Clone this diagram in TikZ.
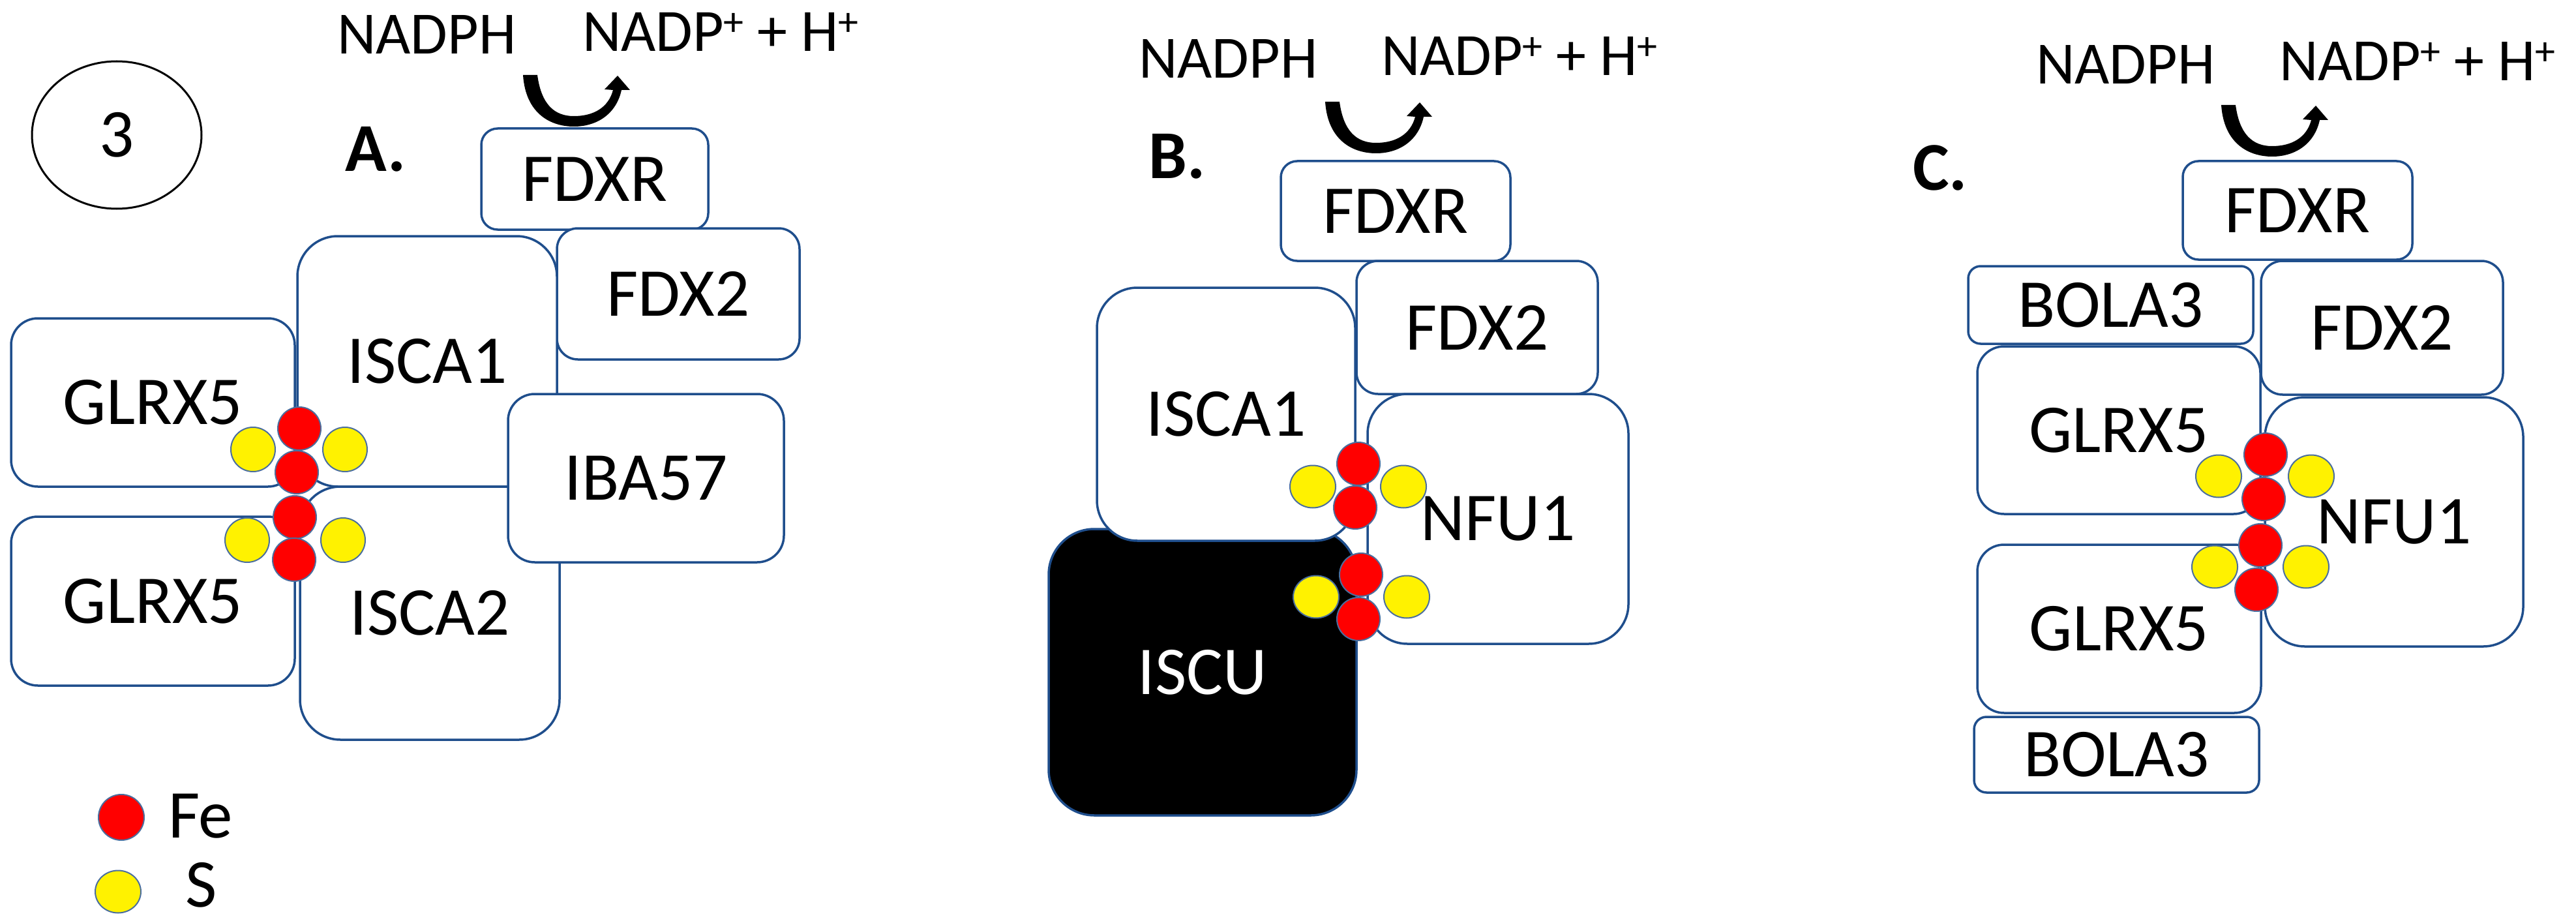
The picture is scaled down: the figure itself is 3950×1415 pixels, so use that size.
\documentclass[tikz,border=0pt]{standalone}
\usepackage{fontspec}
\setmainfont{Carlito}
\usetikzlibrary{shapes.geometric}
\definecolor{boxblue}{HTML}{1F4E8C}
\definecolor{dotline}{HTML}{4A6E9E}
\newcommand\lblfont{\fontsize{105}{126}\selectfont}
\newcommand\nadfont{\fontsize{92}{110}\selectfont}
\newcommand\supplus{\raisebox{24pt}{\fontsize{62}{62}\selectfont +}}
\newcommand\myredox[1]{\begin{scope}[shift={#1}]
\fill[black] (802,115) .. controls (806,175) and (845,194) .. (880,194)
  .. controls (915,194) and (945,175) .. (953,138) -- (966,138) -- (947,116) -- (927,137) -- (940,138)
  .. controls (933,165) and (910,178) .. (880,178)
  .. controls (850,178) and (830,160) .. (824,115) -- cycle;
\end{scope}}
\tikzset{
  pbox/.style={draw=boxblue, line width=3.5pt, fill=white, inner sep=0pt, outer sep=0pt, font=\lblfont, text=black},
  sz/.style n args={3}{minimum width=#1pt, minimum height=#2pt, rounded corners=#3pt},
  featom/.style={circle, draw=dotline, line width=2pt, fill=red, minimum size=66pt, inner sep=0pt},
  satom/.style={circle, draw=dotline, line width=2pt, fill=yellow, minimum size=68pt, inner sep=0pt},
  satomE/.style={ellipse, draw=dotline, line width=2pt, fill=yellow, minimum width=70pt, minimum height=65pt, inner sep=0pt},
  nad/.style={font=\nadfont, inner sep=0pt, anchor=base west},
  plabel/.style={font=\lblfont\bfseries, inner sep=0pt},
}
\begin{document}
\begin{tikzpicture}[x=1pt, y=-1pt]
\useasboundingbox (0,0) rectangle (3950,1415);

% ---------- Panel A ----------
\node[ellipse, draw=black, line width=3pt, minimum width=260pt, minimum height=226pt, inner sep=0pt, font=\lblfont] (num) at (179,207) {3};
\node[nad] (aNADPH) at (517,83) {NADPH};
\node[nad] (aNADP) at (893,79) {NADP\supplus\ + H\supplus};
\myredox{(0,0)}
\node[plabel] (aLab) at (576,229) {A.};
\node[pbox, sz={348}{155}{25}] (aFDXR) at (912,274.5) {FDXR};
\node[pbox, sz={372}{201}{32}] (aFDX2) at (1040,450.5) {FDX2};
\node[pbox, sz={398}{384}{62}] (aISCA1) at (655,554) {ISCA1};
\node[pbox, sz={398}{388}{62}] (aISCA2) at (659,940) {ISCA2};
\node[pbox, sz={435}{258}{41}] (aGLRX5a) at (234.5,617) {GLRX5};
\node[pbox, sz={435}{259}{41}] (aGLRX5b) at (234.5,921.5) {GLRX5};
\node[pbox, sz={423}{258}{41}] (aIBA57) at (990.5,733) {IBA57};
% clusters A
\node[satom] (a1s1) at (388,689) {};
\node[satom] (a1s2) at (529,689) {};
\node[featom] (a1f1) at (459,657) {};
\node[featom] (a1f2) at (455,724) {};
\node[satom] (a2s1) at (379,828) {};
\node[satom] (a2s2) at (526,828) {};
\node[featom] (a2f1) at (452,793) {};
\node[featom] (a2f2) at (451,858) {};
% legend
\node[featom, minimum size=70pt] (legFe) at (186,1253) {};
\node[font=\lblfont, inner sep=0pt, anchor=west] (legFeT) at (258,1251) {Fe};
\node[satomE] (legS) at (181,1367) {};
\node[font=\lblfont, inner sep=0pt] (legST) at (309,1357) {S};

% ---------- Panel B ----------
\node[nad] (bNADPH) at (1746,120) {NADPH};
\node[nad] (bNADP) at (2118,116) {NADP\supplus\ + H\supplus};
\myredox{(1230,41)}
\node[plabel] (bLab) at (1805,240) {B.};
\node[pbox, sz={472}{439}{70}, fill=black, text=white] (bISCU) at (1844,1030.5) {ISCU};
\node[pbox, sz={396}{388}{62}] (bISCA1) at (1880,635) {ISCA1};
\node[pbox, sz={352}{153}{25}] (bFDXR) at (2140,323.5) {FDXR};
\node[pbox, sz={370}{204}{33}] (bFDX2) at (2265,502) {FDX2};
\node[pbox, sz={400}{383}{61}] (bNFU1) at (2297,795.5) {NFU1};
\node[satomE] (b1s1) at (2013,746) {};
\node[satomE] (b1s2) at (2152,746) {};
\node[featom] (b1f1) at (2083,711) {};
\node[featom] (b1f2) at (2078,778) {};
\node[satomE] (b2s1) at (2018,915) {};
\node[satomE] (b2s2) at (2157,915) {};
\node[featom] (b2f1) at (2087,881) {};
\node[featom] (b2f2) at (2083,949) {};

% ---------- Panel C ----------
\node[nad] (cNADPH) at (3122,129) {NADPH};
\node[nad] (cNADP) at (3495,124) {NADP\supplus\ + H\supplus};
\myredox{(2604,46)}
\node[plabel] (cLab) at (2975,257) {C.};
\node[pbox, sz={352}{151}{24}] (cFDXR) at (3523,322.5) {FDXR};
\node[pbox, sz={437}{119}{19}] (cBOLA3a) at (3236.5,467.5) {BOLA3};
\node[pbox, sz={371}{205}{33}] (cFDX2) at (3652.5,502.5) {FDX2};
\node[pbox, sz={434}{257}{41}] (cGLRX5a) at (3249,659.5) {GLRX5};
\node[pbox, sz={396}{382}{61}] (cNFU1) at (3671,800) {NFU1};
\node[pbox, sz={435}{258}{41}] (cGLRX5b) at (3249.5,964) {GLRX5};
\node[pbox, sz={437}{116}{19}] (cBOLA3b) at (3245.5,1157) {BOLA3};
\node[satomE] (c1s1) at (3402,730) {};
\node[satomE] (c1s2) at (3544,730) {};
\node[featom] (c1f1) at (3474,697) {};
\node[featom] (c1f2) at (3471,765) {};
\node[satomE] (c2s1) at (3396,869) {};
\node[satomE] (c2s2) at (3536,869) {};
\node[featom] (c2f1) at (3466,836) {};
\node[featom] (c2f2) at (3460,904) {};
\end{tikzpicture}
\end{document}
